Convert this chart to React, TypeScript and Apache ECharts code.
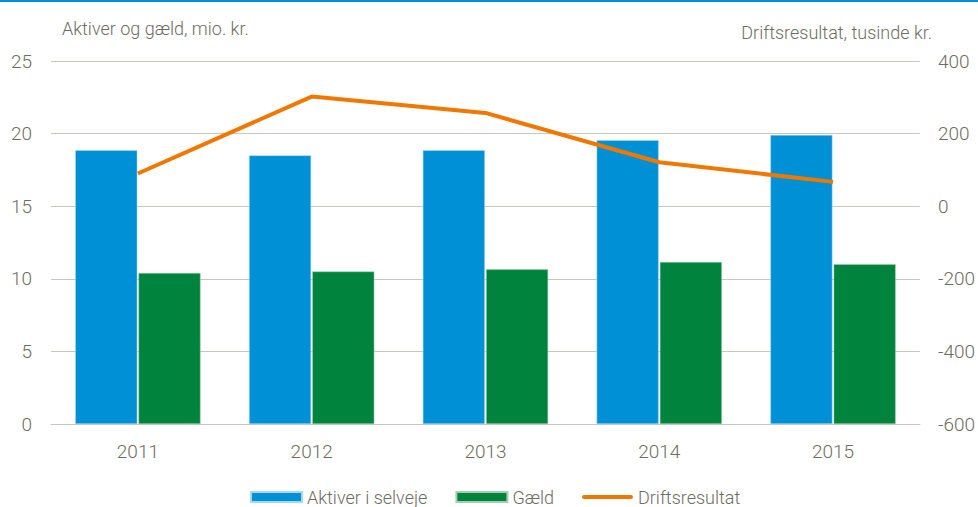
import React, { useEffect, useRef } from "react";
import * as echarts from "echarts";

const years = ["2011", "2012", "2013", "2014", "2015"];
const aktiver = [18.85, 18.5, 18.85, 19.55, 19.9];
const gaeld = [10.4, 10.5, 10.65, 11.15, 11.0];
const drift = [90, 302, 257, 121, 67];

const leftName = "Aktiver og gæld, mio. kr.";
const rightName = "Driftsresultat, tusinde kr.";

const FONT = "'Liberation Sans Narrow', 'Arial Narrow', Roboto, sans-serif";
const TXT = "#6e6c62";
const GRID = "#c9c7bd";
const W = 300;
const FS = 18;

export default function App() {
  const ref = useRef<HTMLDivElement>(null);
  useEffect(() => {
    const chart = echarts.init(ref.current!, undefined, { renderer: "svg" });
    chart.setOption({
      animation: false,
      textStyle: { fontFamily: FONT, color: TXT, fontWeight: W },
      grid: { left: 51, right: 53, top: 61, bottom: 83 },
      legend: {
        bottom: -4,
        left: 245,
        itemWidth: 51,
        itemHeight: 10,
        itemGap: 28,
        textStyle: { fontFamily: FONT, color: TXT, fontSize: FS, fontWeight: W },
        data: [
          { name: "Aktiver i selveje", icon: "rect" },
          { name: "Gæld", icon: "rect" },
          { name: "Driftsresultat", icon: "path://M2,0H50A2,2 0 0 1 50,4H2A2,2 0 0 1 2,0Z" },
        ],
      },
      graphic: [
        { type: "rect", shape: { x: 0, y: 0, width: 978, height: 2 }, style: { fill: "#0090d6" } },
        {
          type: "text",
          x: 62,
          y: 28,
          style: { text: leftName, font: `${W} ${FS}px ${FONT}`, fill: TXT, verticalAlign: "middle", align: "left" },
        },
        {
          type: "text",
          x: 932,
          y: 32,
          style: { text: rightName, font: `${W} ${FS}px ${FONT}`, fill: TXT, verticalAlign: "middle", align: "right" },
        },
      ],
      xAxis: {
        type: "category",
        data: years,
        axisLine: { lineStyle: { color: GRID, width: 1 } },
        axisTick: { show: false },
        axisLabel: { fontSize: FS + 1, color: TXT, fontFamily: FONT, fontWeight: W, margin: 18 },
      },
      yAxis: [
        {
          type: "value",
          min: 0,
          max: 25,
          interval: 5,
          axisLine: { show: false },
          axisTick: { show: false },
          splitLine: { lineStyle: { color: GRID, width: 1 } },
          axisLabel: { fontSize: FS + 1, color: TXT, fontFamily: FONT, fontWeight: W, margin: 19 },
        },
        {
          type: "value",
          min: -600,
          max: 400,
          interval: 200,
          position: "right",
          axisLine: { show: false },
          axisTick: { show: false },
          splitLine: { show: false },
          axisLabel: { fontSize: FS + 1, color: TXT, fontFamily: FONT, fontWeight: W, margin: 18 },
        },
      ],
      series: [
        {
          name: "Aktiver i selveje",
          type: "bar",
          data: aktiver,
          barWidth: 62,
          barGap: "2%",
          itemStyle: { color: "#0090d6", borderColor: "#a8d8f0", borderWidth: 0.5 },
        },
        {
          name: "Gæld",
          type: "bar",
          data: gaeld,
          barWidth: 62,
          barGap: "2%",
          itemStyle: { color: "#00843d", borderColor: "#a0d0b0", borderWidth: 0.5 },
        },
        {
          name: "Driftsresultat",
          type: "line",
          yAxisIndex: 1,
          data: drift,
          symbol: "none",
          showSymbol: false,
          lineStyle: { color: "#f07800", width: 4 },
          itemStyle: { color: "#f07800" },
        },
      ],
    });
    return () => chart.dispose();
  }, []);
  return (
    <div
      ref={ref}
      style={{ position: "fixed", left: 0, top: 0, width: 978, height: 507, background: "#fff" }}
    />
  );
}
